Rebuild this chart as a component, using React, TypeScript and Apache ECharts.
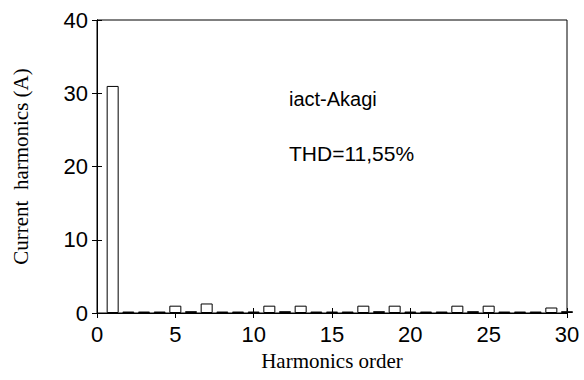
import React, { useEffect, useRef } from "react";
import * as echarts from "echarts";

const harmonicOrders = [
  1, 2, 3, 4, 5, 6, 7, 8, 9, 10, 11, 12, 13, 14, 15, 16, 17, 18, 19, 20, 21, 22, 23, 24, 25, 26, 27, 28, 29, 30,
];
const harmonicAmps = [
  31, 0.2, 0.2, 0.2, 1.0, 0.25, 1.3, 0.2, 0.2, 0.2, 1.0, 0.25, 1.0, 0.2, 0.2, 0.2, 1.0, 0.25, 1.0, 0.2, 0.2, 0.2,
  1.0, 0.25, 1.0, 0.2, 0.2, 0.2, 0.75, 0.25,
];
const xTicks = [0, 5, 10, 15, 20, 25, 30];
const yTicks = [0, 10, 20, 30, 40];
const annotationLines = ["iact-Akagi", "THD=11,55%"];

export default function App() {
  const ref = useRef<HTMLDivElement>(null);
  useEffect(() => {
    document.body.style.margin = "0";
    const chart = echarts.init(ref.current!, null, { renderer: "svg" });
    const sans = "Liberation Sans, Arial, sans-serif";
    const serif = "Liberation Serif, Times New Roman, serif";
    const tickCommon = { show: true, inside: true, length: 5, lineStyle: { color: "#000", width: 1 } };
    chart.setOption({
      animation: false,
      backgroundColor: "#fff",
      grid: { left: 97, right: 17, top: 20, bottom: 67, show: true, borderColor: "#000", borderWidth: 1 },
      xAxis: [
        {
          type: "value",
          min: xTicks[0],
          max: xTicks[xTicks.length - 1],
          interval: 5,
          name: "Harmonics order",
          nameLocation: "middle",
          nameGap: 37,
          nameTextStyle: { fontFamily: serif, fontSize: 21, color: "#000" },
          axisLine: { show: true, lineStyle: { color: "#000", width: 1 } },
          axisTick: tickCommon,
          axisLabel: { fontFamily: sans, fontSize: 22, color: "#000", margin: 10 },
          splitLine: { show: false },
        },
        {
          type: "value",
          position: "top",
          min: xTicks[0],
          max: xTicks[xTicks.length - 1],
          interval: 5,
          axisLine: { show: true, lineStyle: { color: "#000", width: 1 } },
          axisTick: tickCommon,
          axisLabel: { show: false },
          splitLine: { show: false },
        },
      ],
      yAxis: [
        {
          type: "value",
          min: yTicks[0],
          max: yTicks[yTicks.length - 1],
          interval: 10,
          name: "Current  harmonics (A)",
          nameLocation: "middle",
          nameGap: 66,
          nameTextStyle: { fontFamily: serif, fontSize: 21, color: "#000" },
          axisLine: { show: true, lineStyle: { color: "#000", width: 1 } },
          axisTick: tickCommon,
          axisLabel: { fontFamily: sans, fontSize: 22, color: "#000", margin: 9 },
          splitLine: { show: false },
        },
        {
          type: "value",
          position: "right",
          min: yTicks[0],
          max: yTicks[yTicks.length - 1],
          interval: 10,
          axisLine: { show: true, lineStyle: { color: "#000", width: 1 } },
          axisTick: tickCommon,
          axisLabel: { show: false },
          splitLine: { show: false },
        },
      ],
      series: [
        {
          type: "bar",
          xAxisIndex: 0,
          yAxisIndex: 0,
          barWidth: 12,
          clip: false,
          data: harmonicOrders.map((h, i) => [h, harmonicAmps[i]]),
          itemStyle: { color: "#fff", borderColor: "#000", borderWidth: 1 },
          silent: true,
        },
      ],
      graphic: [
        {
          type: "text",
          left: 289,
          top: 89,
          style: { text: annotationLines[0], fontFamily: sans, fontSize: 20, fill: "#000" },
        },
        {
          type: "text",
          left: 289,
          top: 143,
          style: { text: annotationLines[1], fontFamily: sans, fontSize: 21, fill: "#000" },
        },
      ],
    });
    return () => chart.dispose();
  }, []);
  return <div ref={ref} style={{ width: 584, height: 380 }} />;
}
